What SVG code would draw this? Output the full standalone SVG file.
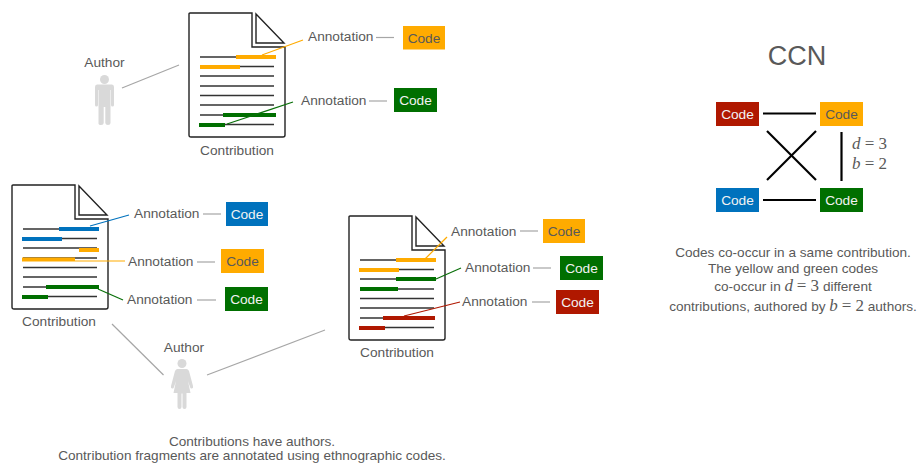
<svg xmlns="http://www.w3.org/2000/svg" xmlns:xlink="http://www.w3.org/1999/xlink" width="919" height="463" viewBox="0 0 919 463">
<style>
text{font-family:"Liberation Sans",Arial,sans-serif;font-size:13.7px;fill:#595959}
.m{text-anchor:middle}
.w{fill:#f2f2f2}
.cap{font-size:13.6px}
.math{font-family:"Liberation Serif","Times New Roman",serif;font-size:17px}
.i{font-style:italic}
.y{fill:#ffab00}.g{fill:#006f00}.b{fill:#0072bd}.r{fill:#b01800}
.ly{stroke:#ffab00}.lg{stroke:#0a700a}.lb{stroke:#0072bd}.lr{stroke:#b01800}
.lk{stroke-width:1.2;fill:none}
.dash{stroke:#a6a6a6;stroke-width:1.2}
.au{stroke:#a6a6a6;stroke-width:1.2}
.ccn{stroke:#000;stroke-width:2.2}
.person{fill:#d9d9d9}
</style>
<defs>
<g id="doc">
<path d="M1,0H63V34H96V122Q96,124 94,124H2Q0,124 0,122V1Q0,0 1,0Z" fill="#fff" stroke="#222" stroke-width="1.4"/>
<path d="M67,1V30H95Z" fill="#fff" stroke="#222" stroke-width="1.4"/>
<path d="M11,44H85M11,53.5H85M11,63H85M11,73H85M11,82.5H85M11,92H85M11,102H85M11,111.5H85" stroke="#333" stroke-width="1.3" fill="none"/>
</g>
</defs>

<g id="connectors">
<line class="au" x1="122" y1="88" x2="179" y2="65"/>
<line class="au" x1="112" y1="324" x2="163.500" y2="375"/>
<line class="au" x1="207" y1="375" x2="325" y2="330"/>
<line class="dash" x1="376" y1="37.500" x2="394" y2="37.500"/>
<line class="dash" x1="369" y1="101" x2="387" y2="101"/>
<line class="dash" x1="203" y1="214" x2="221" y2="214"/>
<line class="dash" x1="197" y1="262" x2="215" y2="262"/>
<line class="dash" x1="197" y1="300" x2="216" y2="300"/>
<line class="dash" x1="520" y1="231" x2="538" y2="231"/>
<line class="dash" x1="533" y1="268" x2="551" y2="268"/>
<line class="dash" x1="532" y1="302" x2="550" y2="302"/>
<line class="ccn" x1="763" y1="113.500" x2="816" y2="113.500"/>
<line class="ccn" x1="763" y1="200" x2="816" y2="200"/>
<line class="ccn" x1="767" y1="131" x2="816" y2="180"/>
<line class="ccn" x1="767" y1="180" x2="816" y2="131"/>
<line class="ccn" x1="841.500" y1="132" x2="841.500" y2="181"/>
</g>

<g id="author-1">
<text class="m" x="104.500" y="67">Author</text>
<g class="person">
<circle cx="104.500" cy="79.500" r="4.500"/>
<path d="M97,84.500H112Q114,84.500 114,87V105Q114,106.500 112.500,106.500T111,105V90H110.500V123Q110.500,125 108,125T105.300,123V107H103.700V123Q103.700,125 101,125T98.500,123V90H98V105Q98,106.500 96.500,106.500T95,105V87Q95,84.500 97,84.500Z"/>
</g>
</g>

<g id="author-2">
<text class="m" x="184" y="352">Author</text>
<g class="person">
<circle cx="182" cy="363.500" r="4.500"/>
<path d="M177.500,369H186.500Q188,369 189,371L193,386Q193.500,388 192,388.500T190,387L188,381L190.500,393H186.500V407Q186.500,409 184.500,409T182.500,407V393.500H181.500V407Q181.500,409 179.500,409T177.500,407V393H173.500L176,381L174,387Q173.500,389 172,388.500T171,386L175,371Q176,369 177.500,369Z"/>
</g>
</g>

<g id="contribution-1">
<use href="#doc" xlink:href="#doc" x="189" y="13"/>
<rect class="y" x="236" y="55" width="40" height="4"/><rect class="y" x="200" y="65" width="40" height="4"/>
<rect class="g" x="223" y="113" width="53" height="4"/><rect class="g" x="199" y="123" width="26" height="4"/>
<path class="lk ly" d="M262,55L303,40"/>
<path class="lk lg" d="M227,124L293,102"/>
<text class="m" x="237" y="155">Contribution</text>
</g>
<g id="annotation-1a"><text x="308" y="41">Annotation</text></g>
<g id="annotation-1b"><text x="301" y="105">Annotation</text></g>
<g id="code-1a"><rect class="y" x="403" y="26" width="42" height="23.500"/><text class="m" x="424" y="42.500">Code</text></g>
<g id="code-1b"><rect class="g" x="394" y="88" width="43" height="24"/><text class="m w" x="415.500" y="105">Code</text></g>

<g id="contribution-2">
<use href="#doc" xlink:href="#doc" x="12" y="185"/>
<rect class="b" x="59" y="227" width="40" height="4"/><rect class="b" x="22" y="237" width="40" height="4"/>
<rect class="y" x="79" y="248" width="20" height="4"/><rect class="y" x="22" y="257.500" width="53" height="4"/>
<rect class="g" x="46" y="285" width="53" height="4"/><rect class="g" x="22" y="295" width="26" height="4"/>
<path class="lk lb" d="M90,226L129,215"/>
<path class="lk ly" d="M75,261H125"/>
<path class="lk lg" d="M98,289L123,300"/>
<text class="m" x="59" y="326">Contribution</text>
</g>
<g id="annotation-2a"><text x="134" y="218">Annotation</text></g>
<g id="annotation-2b"><text x="128" y="266">Annotation</text></g>
<g id="annotation-2c"><text x="127" y="304">Annotation</text></g>
<g id="code-2a"><rect class="b" x="226" y="202" width="42" height="24"/><text class="m w" x="247" y="219">Code</text></g>
<g id="code-2b"><rect class="y" x="221" y="249" width="43" height="24"/><text class="m" x="242.500" y="266">Code</text></g>
<g id="code-2c"><rect class="g" x="225" y="287" width="43" height="24"/><text class="m w" x="246.500" y="304">Code</text></g>

<g id="contribution-3">
<use href="#doc" xlink:href="#doc" x="349" y="216"/>
<rect class="y" x="396" y="258" width="40" height="4"/><rect class="y" x="359" y="268" width="40" height="4"/>
<rect class="g" x="396" y="277" width="40" height="4"/><rect class="g" x="360" y="287" width="38" height="4"/>
<rect class="r" x="383" y="316" width="52" height="4"/><rect class="r" x="359" y="326" width="26" height="4"/>
<path class="lk ly" d="M425,259L447,237"/>
<path class="lk lg" d="M436,279L461,268"/>
<path class="lk lr" d="M404,316L460,302"/>
<text class="m" x="397" y="357">Contribution</text>
</g>
<g id="annotation-3a"><text x="451" y="236">Annotation</text></g>
<g id="annotation-3b"><text x="465" y="272">Annotation</text></g>
<g id="annotation-3c"><text x="462" y="306">Annotation</text></g>
<g id="code-3a"><rect class="y" x="543" y="219" width="42" height="24"/><text class="m" x="564" y="236">Code</text></g>
<g id="code-3b"><rect class="g" x="560" y="256" width="43" height="24"/><text class="m w" x="581.500" y="273">Code</text></g>
<g id="code-3c"><rect class="r" x="556" y="290" width="43" height="24"/><text class="m w" x="577.500" y="307">Code</text></g>

<text class="m" x="797" y="65" style="font-size:27px">CCN</text>
<g id="ccn-red"><rect class="r" x="716" y="102" width="43" height="24"/><text class="m w" x="737.500" y="119">Code</text></g>
<g id="ccn-orange"><rect class="y" x="820" y="102" width="43" height="24"/><text class="m" x="841.500" y="119">Code</text></g>
<g id="ccn-blue"><rect class="b" x="716" y="188" width="43" height="24"/><text class="m w" x="737.500" y="205">Code</text></g>
<g id="ccn-green"><rect class="g" x="820" y="188" width="43" height="24"/><text class="m w" x="841.500" y="205">Code</text></g>
<text class="math" x="852" y="149"><tspan class="i">d</tspan> = 3</text>
<text class="math" x="852" y="169"><tspan class="i">b</tspan> = 2</text>

<text class="m cap" x="793" y="257">Codes co-occur in a same contribution.</text>
<text class="m cap" x="793" y="273">The yellow and green codes</text>
<text class="m cap" x="793" y="291">co-occur in <tspan class="math i">d</tspan> <tspan class="math">= 3</tspan> different</text>
<text class="m cap" x="793" y="311">contributions, authored by <tspan class="math i">b</tspan> <tspan class="math">= 2</tspan> authors.</text>
<text class="m cap" x="252" y="446">Contributions have authors.</text>
<text class="m cap" x="252" y="460">Contribution fragments are annotated using ethnographic codes.</text>
</svg>
